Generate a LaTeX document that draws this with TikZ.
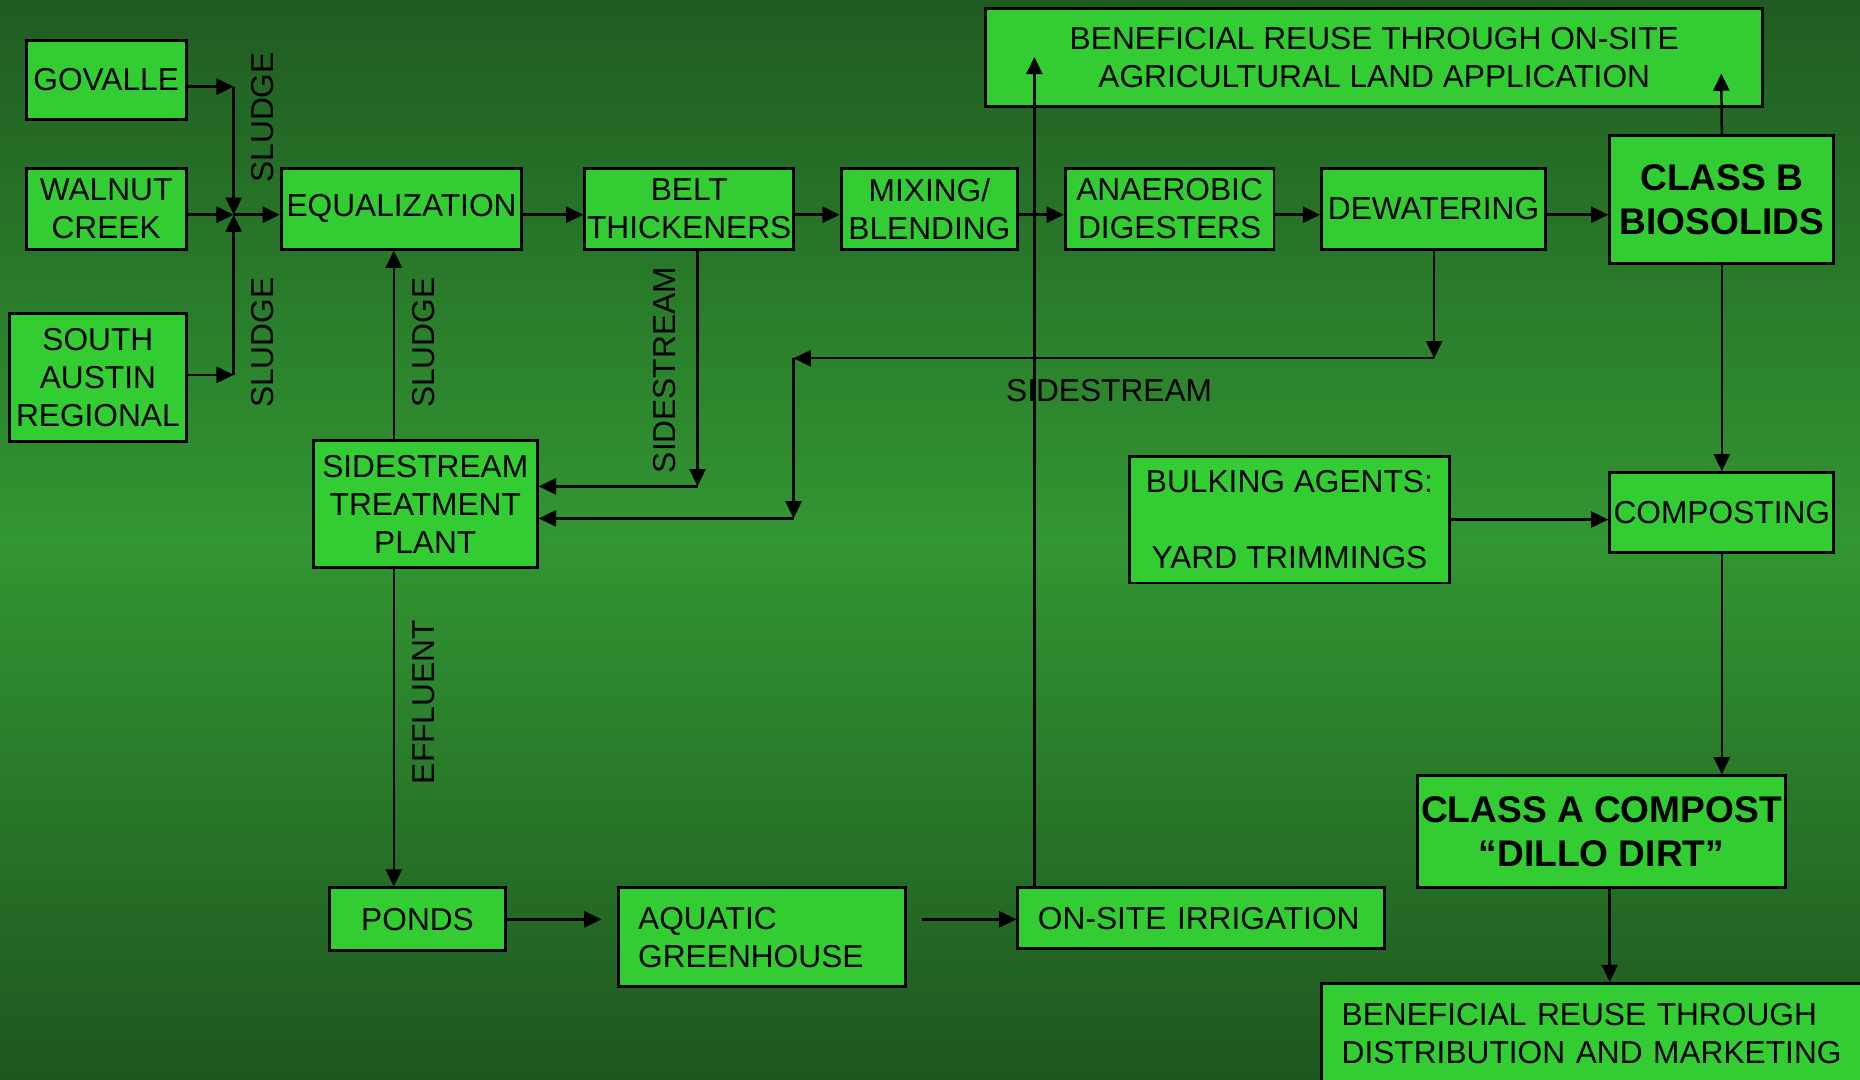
\documentclass[tikz,border=0pt]{standalone}
\usepackage{fontspec}
\setmainfont{Liberation Sans}
\usetikzlibrary{arrows.meta}
\definecolor{boxgreen}{RGB}{51,204,51}
\definecolor{bgtop}{RGB}{32,92,34}
\definecolor{bgmid}{RGB}{50,150,50}
\definecolor{bgbottom}{RGB}{30,86,32}
\begin{document}
\begin{tikzpicture}[x=0.02cm, y=-0.02cm,
		unit/.style={draw=black, line width=1.4pt, fill=boxgreen, inner sep=0pt, align=center, font=\fontsize{15.2}{18.2}\selectfont},
		heavy/.style={unit, font=\fontsize{17.8}{21}\selectfont\bfseries},
		flow/.style={line width=1.2pt, -{Triangle[length=2.9mm, width=2.7mm]}},
		tag/.style={font=\fontsize{15.2}{18.2}\selectfont}]
		\useasboundingbox (0,0) rectangle (1568,910);
		\clip (0,0) rectangle (1568,910);
		\shade[top color=bgtop, bottom color=bgbottom, middle color=bgmid] (0,0) rectangle (1568,910);
		\node[unit, minimum width=2.70cm, minimum height=1.34cm] (govalle) at (89.5,67.5) {GOVALLE};
		\node[unit, minimum width=2.70cm, minimum height=1.36cm] (walnut) at (89.5,176) {WALNUT\\CREEK};
		\node[unit, minimum width=2.98cm, minimum height=2.16cm] (south) at (82.5,318) {SOUTH\\AUSTIN\\REGIONAL};
		\node[unit, minimum width=4.06cm, minimum height=1.36cm] (equal) at (338.5,176) {EQUALIZATION};
		\node[unit, minimum width=3.52cm, minimum height=1.36cm] (belt) at (581,176) {BELT\\THICKENERS};
		\node[unit, minimum width=2.98cm, minimum height=1.36cm] (mixing) at (783.5,176) {MIXING/\\BLENDING};
		\node[unit, minimum width=3.52cm, minimum height=1.36cm] (anaerobic) at (986,176) {ANAEROBIC\\DIGESTERS};
		\node[unit, minimum width=3.78cm, minimum height=1.36cm] (dewater) at (1208.5,176) {DEWATERING};
		\node[heavy, minimum width=3.78cm, minimum height=2.16cm] (classb) at (1451.5,168.5) {CLASS B\\BIOSOLIDS};
		\node[unit, minimum width=13.10cm, minimum height=1.66cm] (landapp) at (1158.5,48.5) {BENEFICIAL REUSE THROUGH ON-SITE\\AGRICULTURAL LAND APPLICATION};
		\node[unit, minimum width=3.78cm, minimum height=2.14cm] (stp) at (358.5,425) {SIDESTREAM\\TREATMENT\\PLANT};
		\node[unit, minimum width=5.40cm, minimum height=2.14cm] (bulking) at (1087,438) {BULKING AGENTS:\\[18.2pt]YARD TRIMMINGS};
		\node[unit, minimum width=3.78cm, minimum height=1.34cm] (compost) at (1451.5,432) {COMPOSTING};
		\node[heavy, minimum width=6.20cm, minimum height=1.88cm] (classa) at (1350,701) {CLASS A COMPOST\\“DILLO DIRT”};
		\node[unit, minimum width=2.96cm, minimum height=1.06cm] (ponds) at (352,775) {PONDS};
		\node[unit, align=left, text width=4.16cm, inner xsep=0.34cm, minimum height=1.66cm] (aquatic) at (642,790) {AQUATIC\\GREENHOUSE};
		\node[unit, align=left, text width=5.50cm, inner xsep=0.34cm, minimum height=1.02cm] (irrig) at (1012.5,774) {ON-SITE IRRIGATION};
		\node[unit, align=left, text width=8.64cm, inner xsep=0.34cm, minimum height=1.68cm] (market) at (1347,871) {BENEFICIAL REUSE THROUGH\\DISTRIBUTION AND MARKETING};
		\node[tag, rotate=90] (sludgetop) at (221,99) {SLUDGE};
		\node[tag, rotate=90] (sludgelow) at (221,289) {SLUDGE};
		\node[tag, rotate=90] (sludgeret) at (357,289) {SLUDGE};
		\node[tag, rotate=90] (sidebelt) at (560,312) {SIDESTREAM};
		\node[tag, rotate=90] (effluent) at (357,592) {EFFLUENT};
		\node[tag] (sidedew) at (935,329) {SIDESTREAM};
		\coordinate (gturn) at (197,73);
		\coordinate (sj) at (197,181);
		\coordinate (sturn) at (197,316);
		\coordinate (mainline) at (0,181);
		\coordinate (agtip) at (1451,62);
		\coordinate (irrtip) at (872,48);
		\coordinate (dwturn) at (1209,302);
		\coordinate (sskink) at (669,302);
		\coordinate (sslow) at (669,437);
		\coordinate (btturn) at (588,410);
		\coordinate (stpaxis) at (332,0);
		\coordinate (pondtip) at (507,775);
		\coordinate (aqstart) at (777,775);
		\coordinate (dirtdrop) at (1357,0);
		\draw[flow] (govalle.east |- gturn) -- (gturn);
		\draw[flow] (gturn) -- (sj);
		\draw[flow] (walnut.east |- sj) -- (sj);
		\draw[flow] (south.east |- sturn) -- (sturn);
		\draw[flow] (sturn) -- (sj);
		\draw[flow] (sj) -- (equal.west |- sj);
		\foreach \a/\b in {equal/belt, belt/mixing, mixing/anaerobic, anaerobic/dewater, dewater/classb}
			\draw[flow] (\a.east |- mainline) -- (\b.west |- mainline);
		\draw[flow] (classb.north) -- (agtip);
		\draw[flow] (classb.south) -- (compost.north);
		\draw[flow] (compost.south) -- (compost.south |- classa.north);
		\draw[flow] (classa.south -| dirtdrop) -- (market.north -| dirtdrop);
		\draw[flow] (bulking.east) -- (bulking.east -| compost.west);
		\draw[flow] (dewater.south -| dwturn) -- (dwturn);
		\draw[flow] (dwturn) -- (sskink);
		\draw[flow] (sskink) -- (sslow);
		\draw[flow] (sslow) -- (stp.east |- sslow);
		\draw[flow] (belt.south -| btturn) -- (btturn);
		\draw[flow] (btturn) -- (stp.east |- btturn);
		\draw[flow] (stp.north -| stpaxis) -- (equal.south -| stpaxis);
		\draw[flow] (stp.south -| stpaxis) -- (ponds.north -| stpaxis);
		\draw[flow] (ponds.east) -- (pondtip);
		\draw[flow] (aqstart) -- (irrig.west |- aqstart);
		\draw[flow] (irrig.north -| irrtip) -- (irrtip);
\end{tikzpicture}
\end{document}
